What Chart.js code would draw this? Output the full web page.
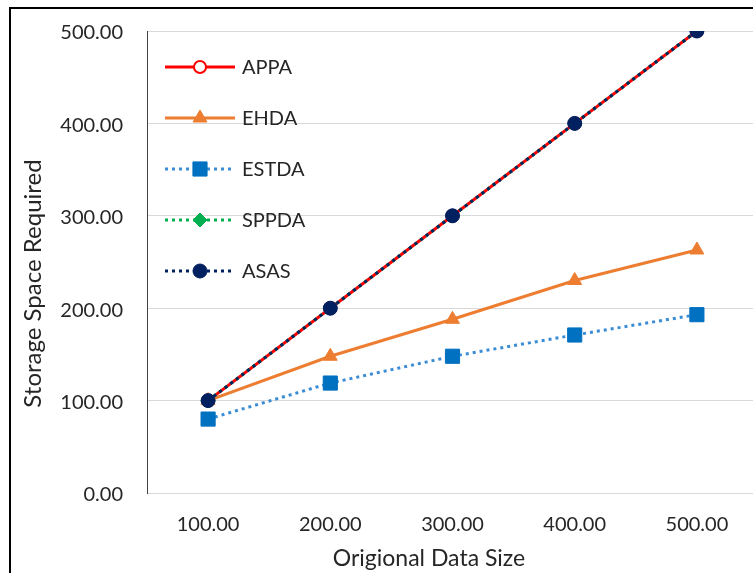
<!DOCTYPE html>
<html>
<head>
<meta charset="utf-8">
<script src="https://cdn.jsdelivr.net/npm/chart.js@4.4.0/dist/chart.umd.min.js"></script>
<style>
  html, body { margin: 0; padding: 0; background: #fff; overflow: hidden; }
  #wrap { position: absolute; left: 0; top: 0; width: 770px; height: 573px; }
  #frame {
    position: absolute; left: 9px; top: 7px; width: 800px; height: 600px;
    border-left: 2px solid #000; border-top: 2px solid #000; pointer-events: none;
  }
</style>
</head>
<body>
<div id="wrap"><canvas id="storageChart"></canvas></div>
<div id="frame"></div>
<script>
// x categories (original data size)
const dataSizes = ["100.00", "200.00", "300.00", "400.00", "500.00"];

// storage space required per scheme
const appa = [100, 200, 300, 400, 500];
const ehda = [100, 148, 188, 230, 263];
const estda = [80, 119, 148, 171, 193];
const sppda = [100, 200, 300, 400, 500];
const asas = [100, 200, 300, 400, 500];

const textColor = "#262626";

// Legend drawn inside the plot: line sample + marker + label
const lineLegend = {
  id: "lineLegend",
  afterDraw(chart) {
    const ctx = chart.ctx;
    const area = chart.chartArea;
    ctx.save();
    chart.data.datasets.forEach((ds, i) => {
      const y = area.top + 36 + i * 51;
      const x0 = area.left + 18;
      ctx.strokeStyle = ds.borderColor;
      ctx.lineWidth = ds.borderWidth;
      ctx.setLineDash(ds.borderDash || []);
      ctx.beginPath();
      ctx.moveTo(x0, y);
      ctx.lineTo(x0 + 70, y);
      ctx.stroke();
      ctx.setLineDash([]);
      ctx.fillStyle = ds.pointBackgroundColor;
      ctx.strokeStyle = ds.pointBorderColor;
      ctx.lineWidth = ds.pointBorderWidth;
      Chart.helpers.drawPoint(ctx, {
        pointStyle: ds.pointStyle,
        radius: ds.pointRadius,
        rotation: 0,
        borderWidth: ds.pointBorderWidth,
      }, x0 + 35, y);
      ctx.fillStyle = textColor;
      ctx.font = "20px Lato";
      ctx.textBaseline = "middle";
      ctx.textAlign = "left";
      ctx.fillText(ds.label, x0 + 77, y + 1);
    });
    ctx.restore();
  },
};

const ctx = document.getElementById("storageChart").getContext("2d");

new Chart(ctx, {
  type: "line",
  data: {
    labels: dataSizes,
    datasets: [
      {
        label: "APPA",
        data: appa,
        borderColor: "#ff0000",
        borderWidth: 3,
        pointStyle: "circle",
        pointRadius: 6,
        pointBackgroundColor: "#ffffff",
        pointBorderColor: "#ff0000",
        pointBorderWidth: 2,
        order: 5,
      },
      {
        label: "EHDA",
        data: ehda,
        borderColor: "#ed7d31",
        borderWidth: 3,
        pointStyle: "triangle",
        pointRadius: 8,
        pointBackgroundColor: "#ed7d31",
        pointBorderColor: "#ed7d31",
        pointBorderWidth: 1,
        order: 4,
      },
      {
        label: "ESTDA",
        data: estda,
        borderColor: "#3a8cd4",
        borderWidth: 3,
        borderDash: [3, 4],
        pointStyle: "rect",
        pointRadius: 10,
        pointBackgroundColor: "#0070c0",
        pointBorderColor: "#0070c0",
        pointBorderWidth: 1,
        order: 3,
      },
      {
        label: "SPPDA",
        data: sppda,
        borderColor: "#00b050",
        borderWidth: 3,
        borderDash: [3, 4],
        pointStyle: "rectRot",
        pointRadius: 7,
        pointBackgroundColor: "#00b050",
        pointBorderColor: "#00b050",
        pointBorderWidth: 1,
        order: 2,
      },
      {
        label: "ASAS",
        data: asas,
        borderColor: "#002060",
        borderWidth: 3,
        borderDash: [3, 4],
        pointStyle: "circle",
        pointRadius: 7,
        pointBackgroundColor: "#002060",
        pointBorderColor: "#002060",
        pointBorderWidth: 1,
        order: 1,
      },
    ],
  },
  options: {
    responsive: true,
    maintainAspectRatio: false,
    animation: false,
    layout: { padding: { left: 0, top: 31, right: 12, bottom: 0 } },
    plugins: {
      legend: { display: false },
      tooltip: { enabled: false },
    },
    scales: {
      x: {
        offset: true,
        grid: { display: false, drawTicks: false },
        border: { display: true, color: "#d9d9d9", width: 1 },
        ticks: { color: textColor, font: { family: "Lato", size: 20 }, padding: 20, maxRotation: 0 },
        title: {
          display: true,
          // trailing spaces nudge the centred title left, as in the original
          text: "Origional Data Size        ",
          color: textColor,
          font: { family: "Lato", size: 23 },
          padding: { top: 0, bottom: 1 },
        },
        afterFit: (scale) => {
          scale.height = 80;
          scale.paddingLeft = 0;
          scale.paddingRight = 0;
        },
      },
      y: {
        min: 0,
        max: 500,
        ticks: {
          stepSize: 100,
          color: textColor,
          font: { family: "Lato", size: 20 },
          padding: 24,
          labelOffset: 2,
          callback: (v) => v.toFixed(2),
        },
        grid: { color: "#d9d9d9", lineWidth: 1, drawTicks: false },
        border: { display: true, color: "#404040", width: 1 },
        title: {
          display: true,
          text: "Storage Space Required       ",
          color: textColor,
          font: { family: "Lato", size: 24 },
          padding: { top: 19, bottom: 0 },
        },
        afterFit: (scale) => {
          scale.width = 147;
          scale.paddingTop = 0;
          scale.paddingBottom = 0;
        },
      },
    },
  },
  plugins: [lineLegend],
});
</script>
</body>
</html>
